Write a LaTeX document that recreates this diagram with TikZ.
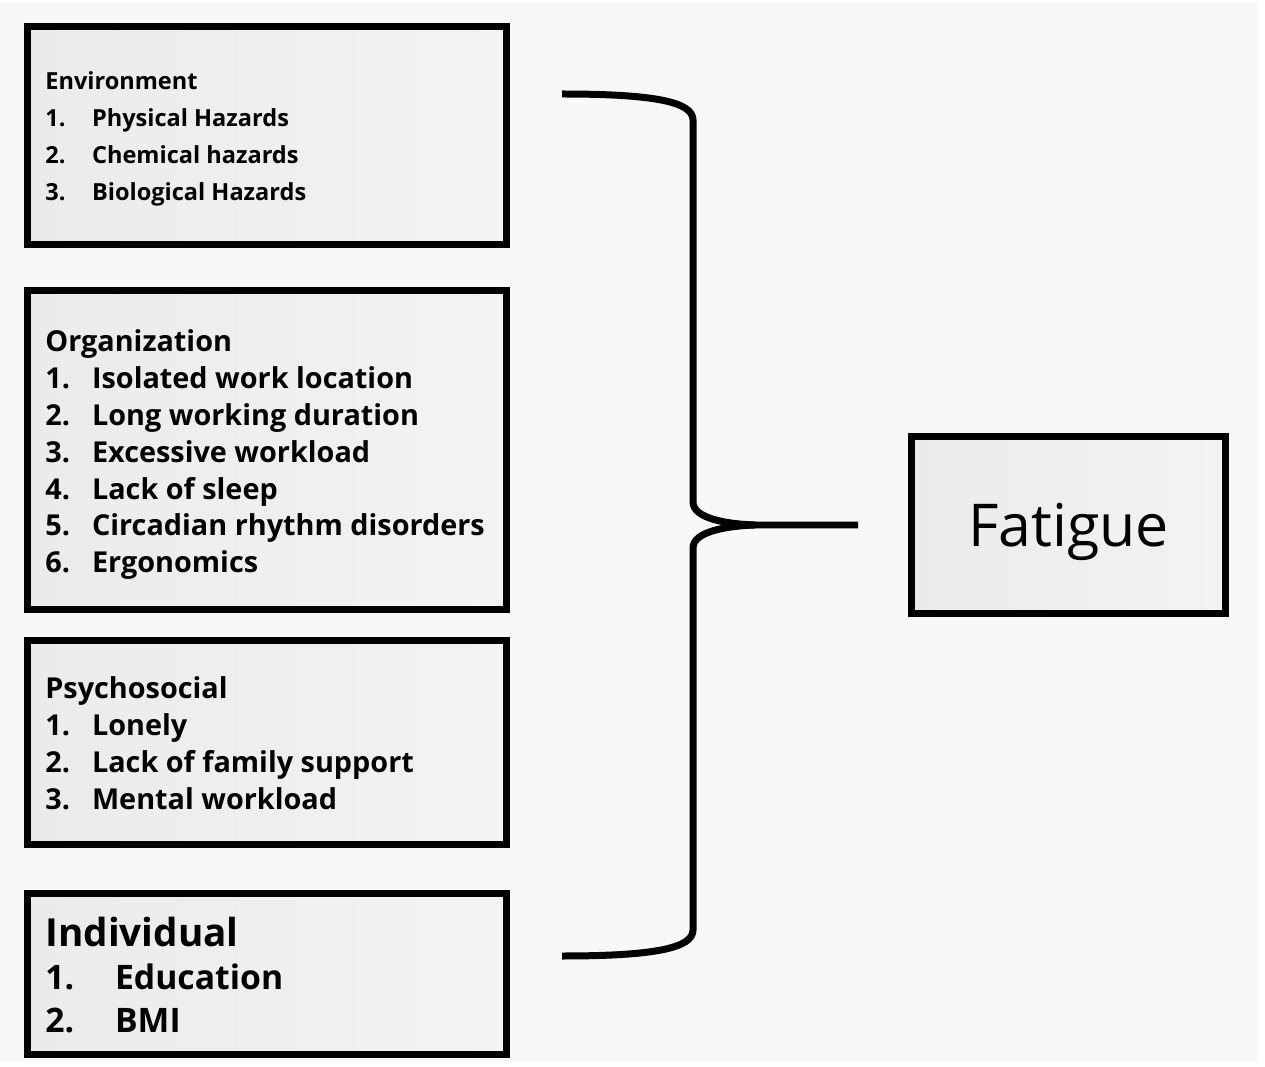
\documentclass[tikz,border=0pt]{standalone}
\usepackage{fontspec}
\setmainfont{Open Sans}
\usepackage{xcolor}
\usepackage{tikz}
\usetikzlibrary{calc}
\definecolor{ink}{HTML}{000000}
\definecolor{paper}{HTML}{F8F8F8}
\definecolor{boxl}{HTML}{EBEBEB}
\definecolor{boxr}{HTML}{F3F3F3}
\tikzset{
  frame/.style={draw=ink, line width=0.14cm, left color=boxl, right color=boxr,
    minimum width=9.58cm, inner sep=0pt},
  brace/.style={draw=ink, line width=0.14cm, line cap=butt, line join=miter},
  head/.style={anchor=base west, inner sep=0pt, text=ink, font=\bfseries\fontsize{13.4}{16}\selectfont},
  item/.style={anchor=base west, inner sep=0pt, text=ink, font=\bfseries\fontsize{13.4}{16}\selectfont},
}
\newcommand{\numitem}[3]{\makebox[#1][l]{#2}#3}

\begin{document}
\begin{tikzpicture}[x=0.02cm, y=-0.02cm]
  \fill[white] (0,0) rectangle (1265,1067);
  \fill[paper] (0,2) rectangle (1258,1062);
  \useasboundingbox (0,0) rectangle (1265,1067);

  % factor boxes
  \node[frame, minimum height=4.36cm] (env) at (267,135.5) {};
  \node[frame, minimum height=6.38cm] (org) at (267,450) {};
  \node[frame, minimum height=4.08cm] (psy) at (267,742.5) {};
  \node[frame, minimum height=3.22cm] (ind) at (267,974) {};

  % environment
  \node[head] (envhd) at (45,90) {Environment};
  \foreach \t [count=\i] in {Physical Hazards, Chemical hazards, Biological Hazards}
    \node[item] (env\i) at (45,{90+36.7*\i}) {\numitem{26.6pt}{\i.}{\t}};

  % organization
  \node[head, font=\bfseries\fontsize{16.4}{20}\selectfont] (orghd) at (45,352) {Organization};
  \foreach \t [count=\i] in {Isolated work location, Long working duration, Excessive workload,
      Lack of sleep, Circadian rhythm disorders, Ergonomics}
    \node[item, font=\bfseries\fontsize{16.4}{20}\selectfont] (org\i) at (45,{352+36.8*\i}) {\numitem{26.6pt}{\i.}{\t}};

  % psychosocial
  \node[head, font=\bfseries\fontsize{16.4}{20}\selectfont] (psyhd) at (45,698) {Psychosocial};
  \foreach \t [count=\i] in {Lonely, Lack of family support, Mental workload}
    \node[item, font=\bfseries\fontsize{16.4}{20}\selectfont] (psy\i) at (45,{698+37*\i}) {\numitem{26.6pt}{\i.}{\t}};

  % individual
  \node[head, font=\bfseries\fontsize{22}{26}\selectfont] (indhd) at (45,946) {Individual};
  \foreach \t [count=\i] in {Education, BMI}
    \node[item, font=\bfseries\fontsize{19.2}{23}\selectfont] (ind\i) at (45,{946+43*\i}) {\numitem{39.7pt}{\i.}{\t}};

  % outcome
  \node[draw=ink, line width=0.14cm, left color=boxl, right color=boxr,
    minimum width=6.28cm, minimum height=3.54cm, inner sep=0pt, text depth=0pt,
    font=\fontsize{33.6}{38}\selectfont] (fat) at (1068.5,525) {Fatigue};

  % brace
  \coordinate (bt) at (562,94);
  \coordinate (tip) at (755,525);
  \coordinate (bb) at (562,956);
  \coordinate (be) at (858,525);
  \draw[brace] (bt) .. controls (655,94) and (693,102) .. (693,120) -- (693,502)
    .. controls (693,518) and (725,524) .. (tip) -- (be);
  \draw[brace] (tip) .. controls (725,526) and (693,532) .. (693,548) -- (693,930)
    .. controls (693,948) and (655,956) .. (bb);
\end{tikzpicture}
\end{document}
